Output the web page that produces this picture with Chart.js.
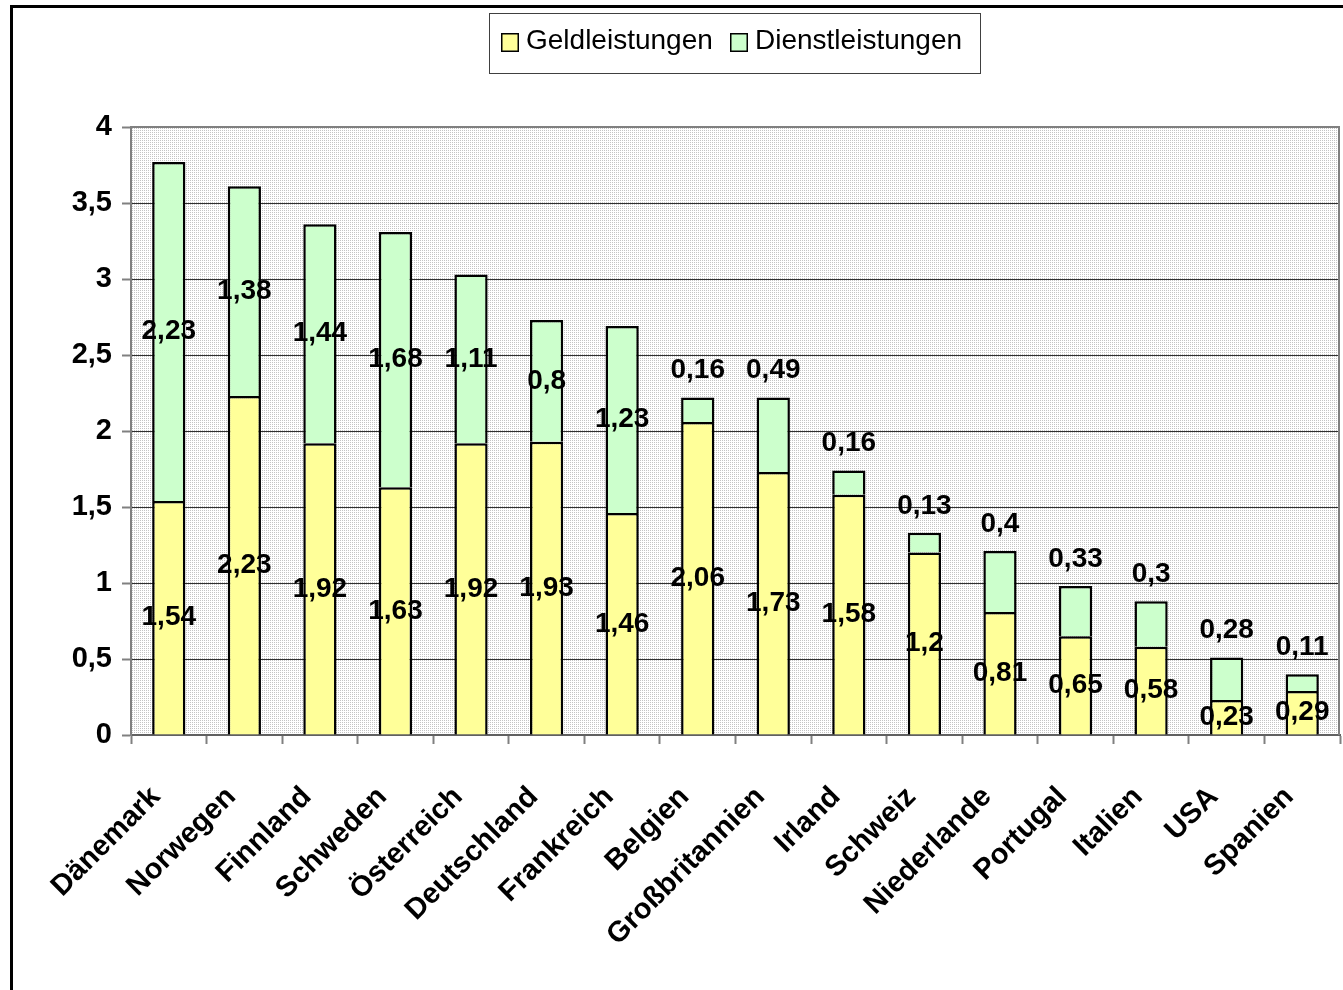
<!DOCTYPE html>
<html>
<head>
<meta charset="utf-8">
<script src="https://cdn.jsdelivr.net/npm/chart.js@4.4.1/dist/chart.umd.min.js"></script>
<style>
  html, body { margin: 0; padding: 0; background: #ffffff; overflow: hidden; }
  canvas { display: block; }
</style>
</head>
<body>
<canvas id="c" width="1343" height="990"></canvas>
<script>
const categories = ["Dänemark", "Norwegen", "Finnland", "Schweden", "Österreich", "Deutschland", "Frankreich", "Belgien", "Großbritannien", "Irland", "Schweiz", "Niederlande", "Portugal", "Italien", "USA", "Spanien"];
const geldleistungen = [1.54, 2.23, 1.92, 1.63, 1.92, 1.93, 1.46, 2.06, 1.73, 1.58, 1.2, 0.81, 0.65, 0.58, 0.23, 0.29];
const dienstleistungen = [2.23, 1.38, 1.44, 1.68, 1.11, 0.8, 1.23, 0.16, 0.49, 0.16, 0.13, 0.4, 0.33, 0.3, 0.28, 0.11];
const seriesNames = ["Geldleistungen", "Dienstleistungen"];
const yTicks = [0, 0.5, 1, 1.5, 2, 2.5, 3, 3.5, 4];

const FONT = '"Liberation Sans", Arial, sans-serif';
const fmt = v => String(v).replace('.', ',');

function makePattern(ctx) {
  const p = document.createElement('canvas');
  p.width = 2; p.height = 2;
  const pc = p.getContext('2d');
  pc.fillStyle = '#ffffff'; pc.fillRect(0, 0, 2, 2);
  pc.fillStyle = '#c4c4c4'; pc.fillRect(0, 0, 1, 1);
  return ctx.createPattern(p, 'repeat');
}

const framePlugin = {
  id: 'frame',
  beforeDraw(chart) {
    const ctx = chart.ctx, a = chart.chartArea;
    ctx.save();
    ctx.fillStyle = '#ffffff';
    ctx.fillRect(0, 0, chart.width, chart.height);
    ctx.strokeStyle = '#000000';
    ctx.lineWidth = 3;
    ctx.beginPath();
    ctx.moveTo(11.5, chart.height + 2);
    ctx.lineTo(11.5, 6.5);
    ctx.lineTo(chart.width + 2, 6.5);
    ctx.stroke();
    ctx.fillStyle = makePattern(ctx);
    ctx.fillRect(a.left, a.top, a.right - a.left, a.bottom - a.top);
    ctx.restore();
  },
  beforeDatasetsDraw(chart) {
    const ctx = chart.ctx, a = chart.chartArea;
    ctx.save();
    ctx.strokeStyle = '#808080';
    ctx.lineWidth = 2;
    ctx.beginPath();
    ctx.moveTo(a.left, a.top);
    ctx.lineTo(a.right - 1, a.top);
    ctx.lineTo(a.right - 1, a.bottom);
    ctx.stroke();
    ctx.restore();
  },
  afterDatasetsDraw(chart) {
    const ctx = chart.ctx;
    ctx.save();
    ctx.font = 'bold 28px ' + FONT;
    ctx.fillStyle = '#000000';
    ctx.textAlign = 'center';
    ctx.textBaseline = 'middle';
    chart.data.datasets.forEach((ds, di) => {
      const meta = chart.getDatasetMeta(di);
      meta.data.forEach((bar, i) => {
        const v = ds.data[i];
        let y;
        if (di === 1 && v < 0.5) y = bar.y - 27;
        else y = (bar.y + bar.base) / 2;
        ctx.fillText(fmt(v), bar.x, y);
      });
    });
    ctx.restore();
  },
  afterDraw(chart) {
    const ctx = chart.ctx;
    ctx.save();
    ctx.fillStyle = '#ffffff';
    ctx.fillRect(489.5, 13.5, 491, 60);
    ctx.strokeStyle = '#404040';
    ctx.lineWidth = 1;
    ctx.strokeRect(489.5, 13.5, 491, 60);
    const items = [
      { x: 501, tx: 526, color: '#FFFF99', label: seriesNames[0] },
      { x: 730, tx: 755, color: '#CCFFCC', label: seriesNames[1] }
    ];
    ctx.font = '28px ' + FONT;
    ctx.textBaseline = 'alphabetic';
    ctx.textAlign = 'left';
    items.forEach(it => {
      ctx.fillStyle = it.color;
      ctx.fillRect(it.x, 33, 18, 19);
      ctx.strokeStyle = '#000000';
      ctx.lineWidth = 1.5;
      ctx.strokeRect(it.x + 0.75, 33.75, 16.5, 17.5);
      ctx.fillStyle = '#000000';
      ctx.fillText(it.label, it.tx, 49);
    });
    ctx.restore();
  }
};

function noPad(s) {
  s.paddingLeft = 0; s.paddingRight = 0; s.paddingTop = 0; s.paddingBottom = 0;
}

new Chart(document.getElementById('c'), {
  type: 'bar',
  data: {
    labels: categories,
    datasets: [
      { label: seriesNames[0], data: geldleistungen, backgroundColor: '#FFFF99', borderColor: '#000000', borderWidth: 2.5 },
      { label: seriesNames[1], data: dienstleistungen, backgroundColor: '#CCFFCC', borderColor: '#000000', borderWidth: 2.5 }
    ]
  },
  options: {
    responsive: false,
    animation: false,
    devicePixelRatio: 1,
    layout: { padding: { top: 127, left: 0, right: 3, bottom: 0 } },
    datasets: { bar: { categoryPercentage: 1, barPercentage: 0.44 } },
    plugins: { legend: { display: false }, tooltip: { enabled: false } },
    scales: {
      x: {
        stacked: true,
        offset: true,
        afterFit(s) { s.height = 255; noPad(s); },
        grid: { display: true, offset: true, drawOnChartArea: false, drawTicks: true, tickLength: 9, tickColor: '#808080', tickWidth: 2 },
        border: { display: true, color: '#606060', width: 2 },
        ticks: {
          autoSkip: false, maxRotation: 45, minRotation: 45, padding: 36, labelOffset: -13,
          color: '#000000', font: { family: FONT, size: 29, weight: 'bold' }
        }
      },
      y: {
        stacked: true,
        min: 0, max: 4,
        afterFit(s) { s.width = 131; noPad(s); },
        afterBuildTicks(s) { s.ticks = yTicks.map(v => ({ value: v })); },
        grid: { color: '#303030', lineWidth: 1, drawTicks: true, tickLength: 9, tickColor: '#808080', tickWidth: 2 },
        border: { display: true, color: '#808080', width: 2 },
        ticks: {
          padding: 10, color: '#000000',
          font: { family: FONT, size: 29, weight: 'bold' },
          callback: v => fmt(v)
        }
      }
    }
  },
  plugins: [framePlugin]
});
</script>
</body>
</html>
